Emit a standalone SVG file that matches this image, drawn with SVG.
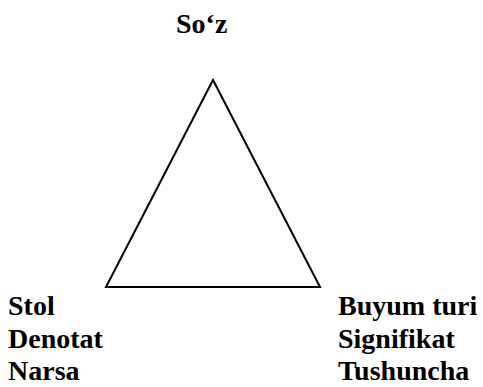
<svg xmlns="http://www.w3.org/2000/svg" width="483" height="387" viewBox="0 0 483 387">
<style>
text{font-family:"Liberation Serif","Times New Roman",serif;font-weight:bold;font-size:28px;fill:#000}
.edge{fill:none;stroke:#000;stroke-width:2}
</style>
<rect width="483" height="387" fill="#fff"/>
<g id="connectors">
<polygon class="edge" points="213,80 106,287 320,287"/>
</g>
<g id="node-soz"><text x="176" y="33">So‘z</text></g>
<g id="node-left">
<text x="8" y="315">Stol</text>
<text x="8" y="348">Denotat</text>
<text x="8" y="380">Narsa</text>
</g>
<g id="node-right">
<text x="338" y="315">Buyum turi</text>
<text x="338" y="348">Signifikat</text>
<text x="338" y="380">Tushuncha</text>
</g>
</svg>
